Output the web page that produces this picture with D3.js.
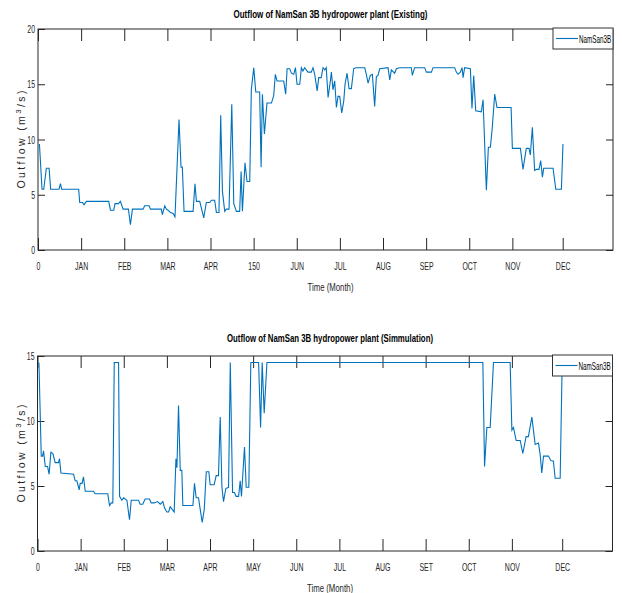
<!DOCTYPE html>
<html>
<head>
<meta charset="utf-8">
<script src="https://cdn.jsdelivr.net/npm/d3@7"></script>
<style>
  body { margin: 0; background: #fff; }
  svg { display: block; }
</style>
</head>
<body>
<div id="chart"></div>
<script>
// tick positions (day of year) and their labels
var tickDays = [0, 30, 60, 90, 120, 150, 180, 210, 240, 270, 300, 330, 365];
var tickLabelsExisting = ["0", "JAN", "FEB", "MAR", "APR", "150", "JUN", "JUL", "AUG", "SEP", "OCT", "NOV", "DEC"];
var tickLabelsSim = ["0", "JAN", "FEB", "MAR", "APR", "MAY", "JUN", "JUL", "AUG", "SET", "OCT", "NOV", "DEC"];
var yTicksExisting = [0, 5, 10, 15, 20];
var yTicksSim = [0, 5, 10, 15];

// Existing outflow
var existingDay = [1, 2.8, 4, 5.8, 7.7, 8.8, 14.6, 15.6, 16.5, 28.3, 29, 31, 32, 33.7, 49.2, 50.4, 52.7, 53.6, 55.9, 57.3,
  59.2, 62.9, 64.3, 65.7, 73.1, 74.2, 77.3, 78.2, 85.8, 86.5, 88.2, 89.3, 90.5, 92.1, 94, 95.3, 98.1, 99.5, 100.4, 101.6,
  107.9, 109.2, 110.2, 112.5, 115.3, 117.1, 119.5, 120.6, 122.9, 124.1, 125.9, 127.1, 128.3, 129.9, 131.1, 132.9, 134.8, 136.2, 138, 140.3,
  141.3, 142.2, 144, 145.4, 147.3, 148.4, 150.1, 151.5, 154.2, 155.2, 156.1, 157.5, 159.3, 162.4, 164, 165.1, 166.3, 170.9, 172.3, 173.3,
  175.1, 176.3, 177.9, 179.1, 180.2, 182.1, 183.2, 184.3, 185.5, 187.8, 190.1, 191.3, 192.5, 194.2, 195.3, 197, 198.3, 199.5, 200.5, 201.8,
  203.4, 204.1, 205.2, 206.4, 207.6, 208.7, 209.9, 211.3, 212.7, 213.6, 215, 216.4, 218, 219.6, 221, 227.3, 228.4, 229.6, 231.2, 232.6,
  234.2, 235.4, 236.5, 237.7, 243.5, 244.7, 245.8, 248.1, 249.3, 251.6, 259.7, 260.4, 262, 269, 270.2, 273.7, 274.8, 289.9, 291, 292.2,
  293.8, 295, 295.7, 296.8, 300.8, 301.9, 303.1, 304.5, 308.4, 309.6, 311.9, 313.3, 314.7, 316.1, 317.7, 319.3, 329.1, 330, 335.6, 337.4,
  339.7, 341.6, 342.5, 343.9, 345.5, 346.7, 348.5, 349.7, 350.9, 351.8, 358.3, 360.2, 364.1, 365.2];
var existingFlow = [9.6, 5.5, 5.5, 7.4, 7.4, 5.5, 5.5, 6.0, 5.5, 5.5, 4.3, 4.3, 4.1, 4.4, 4.4, 3.6, 3.6, 4.2, 4.2, 4.4,
  3.7, 3.7, 2.3, 3.7, 3.7, 4.0, 4.0, 3.7, 3.7, 3.2, 4.0, 3.7, 3.6, 3.4, 3.3, 3.0, 11.8, 7.5, 7.5, 3.5,
  3.5, 6.0, 4.4, 4.4, 2.9, 4.3, 4.3, 4.5, 4.5, 3.4, 3.4, 12.2, 5.3, 3.5, 3.7, 3.7, 13.2, 4.2, 3.5, 3.5,
  7.1, 3.5, 7.9, 6.2, 6.2, 14.5, 16.5, 14.3, 14.3, 7.5, 14.1, 10.5, 13.3, 13.3, 14.0, 15.9, 15.3, 15.3, 14.1, 16.4,
  16.4, 16.0, 15.9, 16.5, 15.0, 15.0, 16.5, 16.2, 16.5, 16.1, 16.1, 16.5, 15.9, 14.4, 15.6, 15.6, 16.5, 16.3, 16.5, 13.8,
  15.3, 16.1, 14.5, 15.3, 12.9, 13.9, 13.9, 12.4, 13.5, 15.0, 16.0, 14.6, 14.6, 16.4, 16.5, 16.5, 15.9, 15.1, 15.8, 15.9,
  13.0, 15.7, 15.8, 16.4, 16.5, 15.4, 16.3, 16.0, 16.4, 16.5, 16.5, 15.8, 16.5, 16.5, 16.1, 16.1, 16.5, 16.5, 16.1, 15.9,
  16.1, 16.5, 15.6, 16.5, 16.4, 12.8, 15.8, 12.6, 12.5, 13.6, 5.4, 9.3, 9.3, 11.2, 14.1, 12.9, 12.9, 9.2, 9.2, 7.3,
  9.2, 9.2, 8.6, 11.1, 7.2, 7.3, 7.3, 8.1, 6.6, 7.4, 7.4, 5.5, 5.5, 9.6];

// Simulated outflow
var simDay = [1, 2.6, 3.5, 4.2, 5.4, 7, 8.1, 9.3, 10.7, 12.3, 14.6, 15.3, 16.3, 25.1, 26.2, 27.4, 29, 29.7, 31, 32,
  33.2, 39, 40.1, 48.9, 50.1, 51.3, 52.4, 53.4, 56.4, 57.1, 58.7, 59.9, 62.2, 64, 65.2, 70.3, 71.4, 73.2, 74.9, 77.9,
  79.1, 81.2, 83.5, 85.4, 87.2, 88.4, 90, 91.2, 92.3, 95.1, 96.3, 97, 98.1, 99.3, 100.4, 101.1, 108.1, 109.2, 110.4, 112,
  113.2, 114.6, 116, 117.4, 119.2, 120.1, 122.9, 124.3, 125.9, 127.1, 128.3, 129.4, 131, 132.9, 134.1, 135.7, 137, 138.2, 139.9, 141,
  141.9, 144, 145.2, 147, 148.4, 153.8, 155.2, 156.3, 157.7, 159.6, 309.8, 311, 312.6, 314.9, 317.2, 328.8, 330, 331.1, 333, 335.8,
  337.6, 339.9, 341.5, 343.9, 346.2, 348.5, 349.7, 350.8, 352, 355.5, 357.1, 358.9, 360.1, 363.6, 365];
var simFlow = [14.5, 7.3, 7.3, 7.7, 6.5, 6.5, 5.9, 7.6, 7.5, 6.8, 6.8, 7.1, 6.0, 5.9, 5.4, 5.4, 4.7, 5.2, 5.2, 5.7,
  4.6, 4.6, 4.4, 4.4, 3.5, 3.7, 3.7, 14.5, 14.5, 4.2, 3.9, 4.1, 3.9, 2.4, 3.9, 3.9, 3.6, 3.6, 4.0, 4.0,
  3.7, 3.7, 3.8, 3.6, 3.8, 3.3, 3.0, 3.0, 3.4, 3.0, 7.1, 6.4, 11.2, 6.2, 6.2, 3.5, 3.5, 5.2, 4.1, 4.1,
  3.2, 2.2, 3.2, 6.1, 6.1, 5.1, 5.1, 5.8, 5.8, 10.3, 4.9, 3.8, 4.8, 4.9, 14.5, 4.5, 4.5, 4.2, 4.2, 5.4,
  4.2, 8.0, 4.9, 4.9, 14.5, 14.5, 9.5, 14.5, 10.6, 14.5, 14.5, 6.5, 9.5, 9.5, 14.5, 14.5, 9.3, 9.5, 8.5, 8.5,
  7.5, 8.8, 8.8, 10.3, 8.2, 8.3, 7.4, 6.0, 7.3, 7.3, 6.95, 6.9, 5.6, 5.6, 14.5];

var W = 622, H = 593;
var sans = "'Liberation Sans', Arial, Helvetica, sans-serif";
var axisColor = "#262626";
var lineColor = "#0072BD";
var squeeze = 0.63; // the original uses a narrow face

var svg = d3.select("#chart").append("svg")
  .attr("width", W)
  .attr("height", H)
  .style("background", "#fff");

// squeeze a text horizontally, either by a factor or to a fixed width
function narrowText(sel, factor, width) {
  sel.each(function () {
    var len = this.getComputedTextLength();
    var target = width ? width : len * factor;
    d3.select(this).attr("textLength", target).attr("lengthAdjust", "spacingAndGlyphs");
  });
}

function drawPanel(p) {
  var x = d3.scaleLinear().domain([0, 400]).range([p.x0, p.x1]);
  var y = d3.scaleLinear().domain([0, p.yMax]).range([p.y1, p.y0]);
  var g = svg.append("g");

  var data = p.days.map(function (d, i) { return [d, p.flow[i]]; });

  // bottom axis with month labels, ticks pointing inward
  var bottom = g.append("g")
    .attr("transform", "translate(0," + p.y1 + ")")
    .call(d3.axisBottom(x).tickValues(tickDays).tickSize(-12).tickSizeOuter(0).tickPadding(12)
      .tickFormat(function (d, i) { return p.labels[i]; }));
  // top axis, ticks only
  var top = g.append("g")
    .attr("transform", "translate(0," + p.y0 + ")")
    .call(d3.axisTop(x).tickValues(tickDays).tickSize(-12).tickSizeOuter(0).tickFormat(""));
  var left = g.append("g")
    .attr("transform", "translate(" + p.x0 + ",0)")
    .call(d3.axisLeft(y).tickValues(p.yTicks).tickSize(-7).tickSizeOuter(0).tickPadding(3));
  var right = g.append("g")
    .attr("transform", "translate(" + p.x1 + ",0)")
    .call(d3.axisRight(y).tickValues(p.yTicks).tickSize(-7).tickSizeOuter(0).tickFormat(""));

  [bottom, top, left, right].forEach(function (a) {
    a.select(".domain").remove();
    a.selectAll("line").attr("stroke", axisColor);
    a.selectAll("text").attr("fill", axisColor).style("font-family", sans).style("font-size", "11px");
  });
  narrowText(bottom.selectAll("text"), squeeze);
  narrowText(left.selectAll("text"), squeeze);

  // data line
  g.append("path")
    .datum(data)
    .attr("fill", "none")
    .attr("stroke", lineColor)
    .attr("stroke-width", 1.1)
    .attr("d", d3.line().x(function (d) { return x(d[0]); }).y(function (d) { return y(d[1]); }));

  // box
  g.append("rect")
    .attr("x", p.x0).attr("y", p.y0)
    .attr("width", p.x1 - p.x0).attr("height", p.y1 - p.y0)
    .attr("fill", "none").attr("stroke", axisColor).attr("stroke-width", 1);

  // title
  var t = g.append("text")
    .attr("x", (p.x0 + p.x1) / 2 + 5).attr("y", p.titleY)
    .attr("text-anchor", "middle")
    .style("font-family", sans).style("font-size", "11.5px").style("font-weight", "bold")
    .attr("fill", "#000")
    .text(p.title);
  narrowText(t, 0, p.titleW);

  // x label
  var xl = g.append("text")
    .attr("x", (p.x0 + p.x1) / 2 + 5).attr("y", p.y1 + 41)
    .attr("text-anchor", "middle")
    .style("font-family", sans).style("font-size", "11px")
    .attr("fill", axisColor)
    .text("Time (Month)");
  narrowText(xl, 0, 46);

  // y label with superscript
  var yl = g.append("text")
    .attr("transform", "translate(25," + ((p.y0 + p.y1) / 2) + ") rotate(-90)")
    .attr("text-anchor", "middle")
    .style("font-family", sans).style("font-size", "10.5px")
    .attr("fill", axisColor);
  yl.append("tspan").text("Outflow (m");
  yl.append("tspan").attr("dy", -4).style("font-size", "8px").text("3");
  yl.append("tspan").attr("dy", 4).text("/s)");
  yl.attr("textLength", 98).attr("lengthAdjust", "spacing");

  // legend
  var lg = g.append("g").attr("transform", "translate(" + (p.x1 - 60) + "," + (p.y0 - 1) + ")");
  lg.append("rect").attr("width", 60).attr("height", 21)
    .attr("fill", "#fff").attr("stroke", "#333").attr("stroke-width", 1);
  lg.append("line").attr("x1", 3).attr("x2", 25).attr("y1", 10.5).attr("y2", 10.5)
    .attr("stroke", lineColor).attr("stroke-width", 1.1);
  // narrow legend text via a horizontal scale so its box matches what is drawn
  lg.append("g")
    .attr("transform", "translate(26,14.5) scale(0.6,1)")
    .append("text")
    .style("font-family", sans).style("font-size", "10.5px")
    .attr("fill", "#000")
    .text("NamSan3B");
}

drawPanel({
  x0: 38, x1: 613, y0: 29, y1: 250, yMax: 20,
  days: existingDay, flow: existingFlow, yTicks: yTicksExisting,
  labels: tickLabelsExisting, titleY: 18.3, titleW: 194,
  title: "Outflow of NamSan 3B hydropower plant (Existing)"
});

drawPanel({
  x0: 37.5, x1: 612.5, y0: 356, y1: 551, yMax: 15,
  days: simDay, flow: simFlow, yTicks: yTicksSim,
  labels: tickLabelsSim, titleY: 342, titleW: 206,
  title: "Outflow of NamSan 3B hydropower plant (Simmulation)"
});
</script>
</body>
</html>
